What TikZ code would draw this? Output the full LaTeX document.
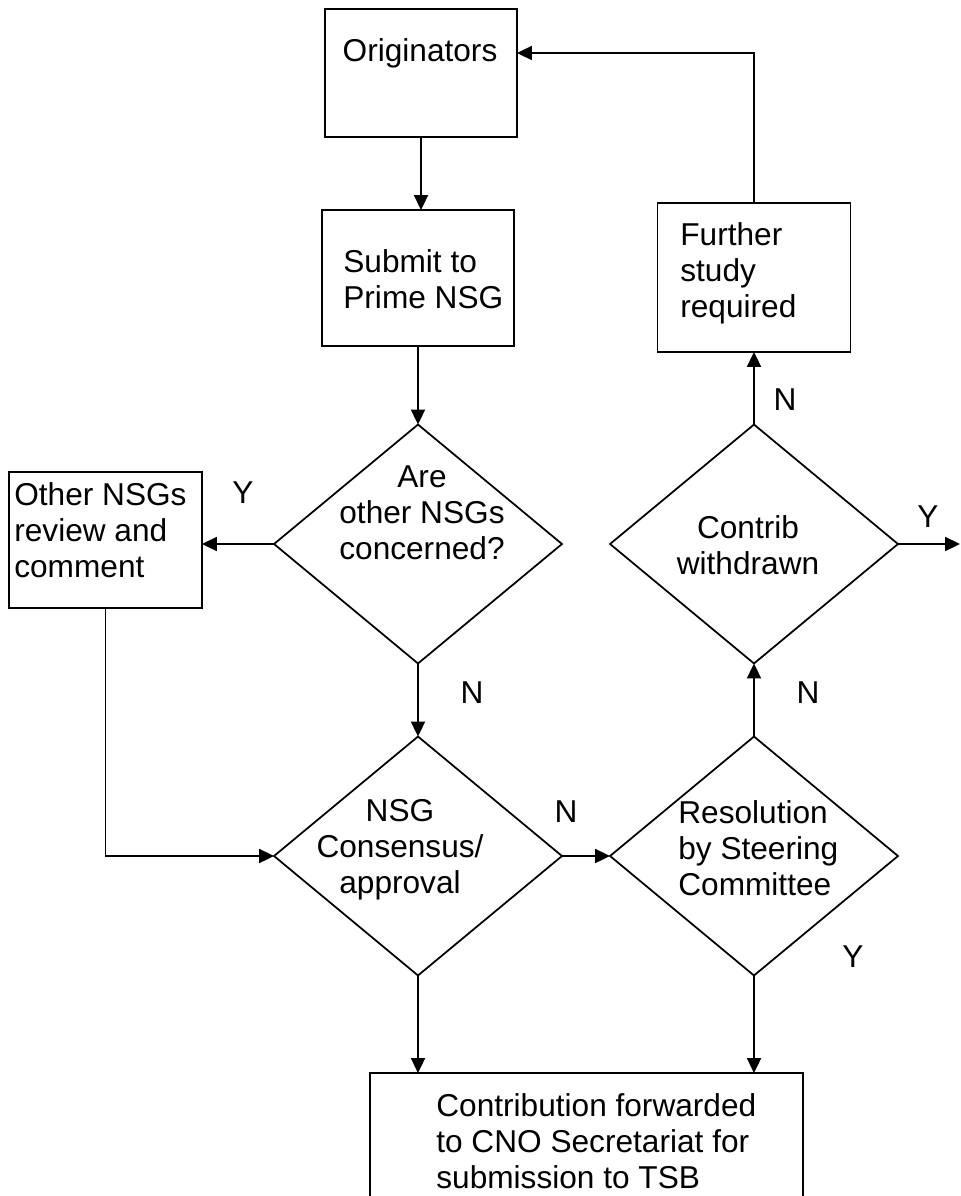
\documentclass[tikz,border=0pt]{standalone}
\usepackage{fontspec}
\setmainfont{Liberation Sans}
\usetikzlibrary{shapes.geometric,arrows.meta}
\tikzset{
  every node/.style={font=\fontsize{18}{20.5}\selectfont},
  box/.style={draw, rectangle, line width=1pt, inner sep=0pt, outer sep=0pt},
  decision/.style={draw, diamond, line width=1pt, inner sep=0pt, outer sep=0pt,
    minimum width=5.76cm, minimum height=4.78cm},
  txt/.style={inner sep=0pt},
  flow/.style={line width=1pt, -{Triangle[length=8.5pt,width=8pt]}},
  link/.style={line width=1pt}
}
\begin{document}
\begin{tikzpicture}[x=0.02cm, y=-0.02cm]
\useasboundingbox (0,0) rectangle (960,1196);
% boxes
\node [box, minimum width=3.84cm, minimum height=2.56cm] (orig) at (421,73) {};
\node [box, minimum width=3.84cm, minimum height=2.72cm] (submit) at (418,278) {};
\node [box, minimum width=3.86cm, minimum height=2.72cm] (other) at (105.5,540) {};
\node [box, minimum width=3.86cm, minimum height=2.98cm] (further) at (754,277.5) {};
\node [box, minimum width=8.66cm, minimum height=3.14cm] (final) at (586.5,1151.5) {};
% decisions
\node [decision] (concern) at (418,544) {};
\node [decision] (consensus) at (418,856) {};
\node [decision] (steering) at (754,856) {};
\node [decision] (withdrawn) at (754,544) {};
% texts
\node [txt] (t-orig) at (420,53) {Originators};
\node [txt, anchor=west, align=left] (t-submit) at (343,279) {Submit to\\Prime NSG};
\node [txt, anchor=west, align=left] (t-other) at (14,530) {Other NSGs\\review and\\comment};
\node [txt, anchor=west, align=left] (t-further) at (680,273) {Further\\study\\required};
\node [txt, align=center] (t-concern) at (422,513) {Are\\other NSGs\\concerned?};
\node [txt, align=center] (t-consensus) at (400,850) {NSG\\Consensus/\\approval};
\node [txt, anchor=west, align=left] (t-steering) at (678,848) {Resolution\\by Steering\\Committee};
\node [txt, align=center] (t-withdrawn) at (748,545) {Contrib\\withdrawn};
\node [txt, anchor=west, align=left] (t-final) at (436,1141) {Contribution forwarded\\to CNO Secretariat for\\submission to TSB};
% answers
\node [txt] (y-concern) at (243,493) {Y};
\node [txt] (n-concern) at (472,693) {N};
\node [txt] (n-consensus) at (566,812) {N};
\node [txt] (n-steering) at (808,693) {N};
\node [txt] (y-steering) at (853,957) {Y};
\node [txt] (n-withdrawn) at (785,400) {N};
\node [txt] (y-withdrawn) at (928,517) {Y};
% connectors
\coordinate (exit) at (960,544);
\coordinate (back) at (754,53);
\draw [flow] (orig.south) -- (orig.south |- submit.north);
\draw [flow] (submit.south) -- (concern.north);
\draw [flow] (concern.west) -- (concern.west -| other.east);
\draw [flow] (concern.south) -- (consensus.north);
\draw [flow] (other.south) -- (other.south |- consensus.west) -- (consensus.west);
\draw [flow] (consensus.east) -- (steering.west);
\draw [flow] (steering.north) -- (withdrawn.south);
\draw [flow] (withdrawn.north) -- (further.south);
\draw [flow] (withdrawn.east) -- (exit);
\draw [flow] (further.north) -- (back) -- (back -| orig.east);
\draw [flow] (consensus.south) -- (consensus.south |- final.north);
\draw [flow] (steering.south) -- (steering.south |- final.north);
\end{tikzpicture}
\end{document}
